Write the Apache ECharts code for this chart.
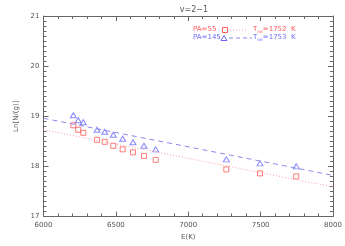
<!DOCTYPE html>
<html><head><meta charset="utf-8">
<script src="https://cdn.jsdelivr.net/npm/echarts@6/dist/echarts.min.js"></script>
<style>html,body{margin:0;padding:0;background:#fff}#c{width:345px;height:246px}</style>
</head><body><div id="c"></div>
<script>
// Data
const energyK = [6206, 6240, 6275, 6370, 6423, 6482, 6547, 6618, 6694, 6775, 7263, 7496, 7746];
const lnPA55  = [18.82, 18.73, 18.67, 18.53, 18.49, 18.41, 18.34, 18.28, 18.21, 18.13, 17.94, 17.86, 17.80];
const lnPA145 = [19.02, 18.92, 18.88, 18.73, 18.69, 18.63, 18.55, 18.48, 18.41, 18.34, 18.14, 18.06, 18.00];
const fitE    = [6000, 8000];
const fitPA55  = [18.73, 17.59];
const fitPA145 = [18.96, 17.82];
const xTicks = [6000, 6500, 7000, 7500, 8000];
const yTicks = [17, 18, 19, 20, 21];

const RED = '#ff5a5a', BLUE = '#6a6aff';
const zip = (a, b) => a.map((v, i) => [v, b[i]]);
const FONT = 'DejaVu Sans';
const axisCol = '#666';

const chart = echarts.init(document.getElementById('c'), null, {renderer: 'canvas'});
const baseX = {
  type: 'value', min: 6000, max: 8000, interval: 500,
  axisLine: {show: true, onZero: false, lineStyle: {color: axisCol, width: 1}},
  axisTick: {show: true, inside: true, length: 5, lineStyle: {color: axisCol}},
  minorTick: {show: true, splitNumber: 5, length: 3, lineStyle: {color: axisCol}},
  splitLine: {show: false}
};
const baseY = {
  type: 'value', min: 17, max: 21, interval: 1,
  axisLine: {show: true, onZero: false, lineStyle: {color: axisCol, width: 1}},
  axisTick: {show: true, inside: true, length: 5, lineStyle: {color: axisCol}},
  minorTick: {show: true, splitNumber: 10, length: 3, lineStyle: {color: axisCol}},
  splitLine: {show: false}
};
chart.setOption({
  animation: false,
  backgroundColor: '#fff',
  title: {text: 'v=2\u22121', left: 189, top: 1, textAlign: 'center',
    textStyle: {fontFamily: FONT, fontSize: 8, fontWeight: 'normal', color: '#555'}},
  grid: {left: 43.5, right: 12, top: 16, bottom: 29.5},
  xAxis: [
    Object.assign({}, baseX, {position: 'bottom', name: 'E(K)', nameLocation: 'middle', nameGap: 15,
      nameTextStyle: {fontFamily: FONT, fontSize: 7, color: '#555'},
      axisLabel: {show: true, margin: 5, fontFamily: FONT, fontSize: 7, color: '#555',
        formatter: v => xTicks.includes(v) ? String(v) : ''}}),
    Object.assign({}, baseX, {position: 'top', axisLabel: {show: false}})
  ],
  yAxis: [
    Object.assign({}, baseY, {position: 'left', name: 'Ln[N/(g)]', nameLocation: 'middle', nameGap: 20,
      nameTextStyle: {fontFamily: FONT, fontSize: 7, color: '#555'},
      axisLabel: {show: true, margin: 4, fontFamily: FONT, fontSize: 7, color: '#555',
        formatter: v => yTicks.includes(v) ? String(v) : ''}}),
    Object.assign({}, baseY, {position: 'right', axisLabel: {show: false}})
  ],
  series: [
    {type: 'line', data: zip(fitE, fitPA55), symbol: 'none', silent: true,
      lineStyle: {color: '#ffa0a0', width: 1, type: [1, 2]}},
    {type: 'line', data: zip(fitE, fitPA145), symbol: 'none', silent: true,
      lineStyle: {color: '#8a8aee', width: 1, type: [5, 4]}},
    {type: 'scatter', data: zip(energyK, lnPA55), symbol: 'rect', symbolSize: 5,
      itemStyle: {color: 'rgba(0,0,0,0)', borderColor: RED, borderWidth: 1}},
    {type: 'scatter', data: zip(energyK, lnPA145), symbol: 'triangle', symbolSize: [6, 5],
      itemStyle: {color: 'rgba(0,0,0,0)', borderColor: BLUE, borderWidth: 1}}
  ],
  graphic: [
    {type: 'text', left: 193, top: 26, style: {text: 'PA=55', font: '7px "DejaVu Sans"', fill: RED}},
    {type: 'rect', shape: {x: 222.5, y: 27.5, width: 5, height: 5}, style: {fill: 'none', stroke: RED, lineWidth: 1}},
    {type: 'line', shape: {x1: 230, y1: 30, x2: 248, y2: 30}, style: {stroke: '#ffa0a0', lineWidth: 1, lineDash: [1, 2]}},
    {type: 'text', left: 253, top: 26, style: {
      text: '{t|T}{s|rot}{t|=1752  K}', fill: RED,
      rich: {t: {fontFamily: FONT, fontSize: 7, fill: RED}, s: {fontFamily: FONT, fontSize: 4, fill: RED, padding: [4, 0, 0, 0]}}}},
    {type: 'text', left: 193, top: 34, style: {text: 'PA=145', font: '7px "DejaVu Sans"', fill: BLUE}},
    {type: 'polygon', shape: {points: [[224, 35.5], [227, 40.5], [221, 40.5]]}, style: {fill: 'none', stroke: BLUE, lineWidth: 1}},
    {type: 'line', shape: {x1: 229, y1: 38, x2: 252, y2: 38}, style: {stroke: '#8a8aee', lineWidth: 1, lineDash: [4, 3]}},
    {type: 'text', left: 253, top: 34, style: {
      text: '{t|T}{s|rot}{t|=1753  K}', fill: BLUE,
      rich: {t: {fontFamily: FONT, fontSize: 7, fill: BLUE}, s: {fontFamily: FONT, fontSize: 4, fill: BLUE, padding: [4, 0, 0, 0]}}}}
  ]
});
</script></body></html>
